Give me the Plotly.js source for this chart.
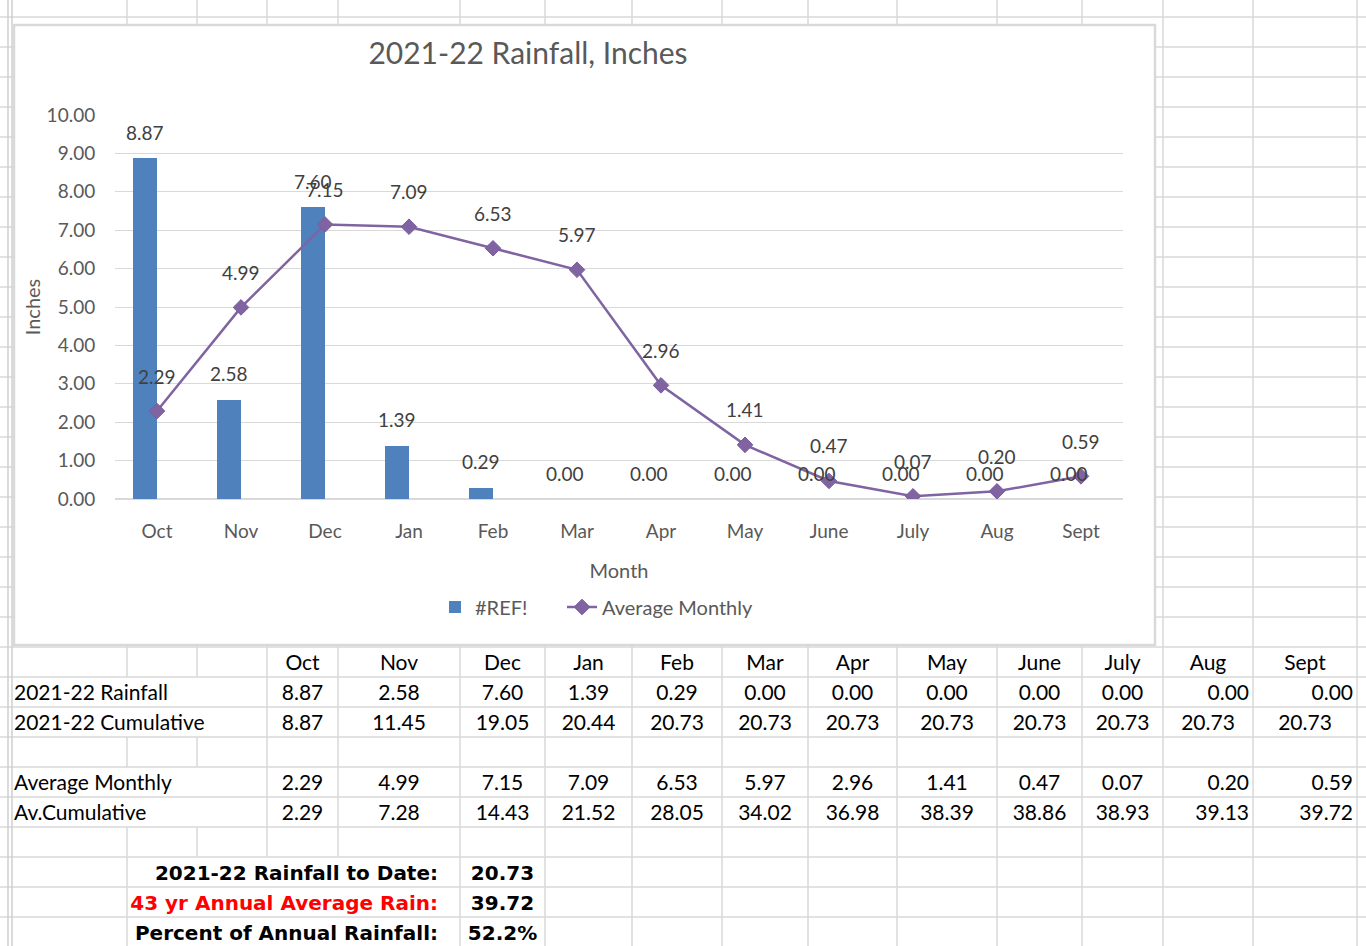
<!DOCTYPE html>
<html>
<head>
<meta charset="utf-8">
<script src="https://cdn.plot.ly/plotly-3.0.1.min.js"></script>
<style>
html,body{margin:0;padding:0;background:#fff;}
#chart{width:1366px;height:946px;}
</style>
</head>
<body>
<div id="chart"></div>
<script>
// ---------------- data ----------------
const months = ['Oct','Nov','Dec','Jan','Feb','Mar','Apr','May','June','July','Aug','Sept'];
const rainfall = [8.87, 2.58, 7.60, 1.39, 0.29, 0.00, 0.00, 0.00, 0.00, 0.00, 0.00, 0.00];
const avgMonthly = [2.29, 4.99, 7.15, 7.09, 6.53, 5.97, 2.96, 1.41, 0.47, 0.07, 0.20, 0.59];
const cumulative = [8.87, 11.45, 19.05, 20.44, 20.73, 20.73, 20.73, 20.73, 20.73, 20.73, 20.73, 20.73];
const avCumulative = [2.29, 7.28, 14.43, 21.52, 28.05, 34.02, 36.98, 38.39, 38.86, 38.93, 39.13, 39.72];
const rowLabels = ['2021-22 Rainfall', '2021-22 Cumulative', 'Average Monthly', 'Av.Cumulative'];
const summaryLabels = ['2021-22 Rainfall to Date:', '43 yr Annual Average Rain:', 'Percent of Annual Rainfall:'];
const summaryValues = ['20.73', '39.72', '52.2%'];
const seriesNames = ['#REF!', 'Average Monthly'];

// ---------------- layout helpers ----------------
const W = 1366, H = 946;
const px = x => x / W;
const py = y => 1 - y / H;
const chartFont = 'Lato, "Open Sans", sans-serif';
const tableFont = 'Lato, "Open Sans", sans-serif';
const boldFont = '"DejaVu Sans", sans-serif';

// spreadsheet geometry (pixels)
const gridTop = 17, rowH = 30, nRows = 32, textDrop = 3;
const colL = [267, 338, 460, 545, 632, 722, 808, 897, 997, 1082, 1163, 1253];
const colR = [338, 460, 545, 632, 722, 808, 897, 997, 1082, 1163, 1253, 1357];
const rowCenter = r => gridTop + rowH * r + rowH / 2 + textDrop;

// ---------------- chart traces ----------------
const traces = [
  {
    type: 'bar', name: seriesNames[0], x: months, y: rainfall,
    width: 0.28, offset: -0.28,
    marker: {color: '#4F81BD'},
    hoverinfo: 'x+y', legend: 'legend'
  },
  {
    type: 'scatter', mode: 'lines+markers', name: seriesNames[1], x: months, y: avgMonthly,
    line: {color: '#8064A2', width: 2.5},
    marker: {symbol: 'diamond', size: 12, color: '#8064A2', line: {color: '#7A5C9E', width: 1}},
    legend: 'legend2'
  }
];

// ---------------- table traces (pixel-space subplot) ----------------
const txtBase = {type: 'scatter', mode: 'text', xaxis: 'x2', yaxis: 'y2', showlegend: false, hoverinfo: 'skip', cliponaxis: false};

traces.push(Object.assign({}, txtBase, {
  x: months.map((m, i) => (colL[i] + colR[i]) / 2),
  y: months.map(() => rowCenter(21)),
  text: months, textposition: 'middle center',
  textfont: {family: tableFont, size: 21, color: '#000'}
}));

const tableRows = [
  {vals: rainfall, r: 22, right: [10, 11]},
  {vals: cumulative, r: 23, right: []},
  {vals: avgMonthly, r: 25, right: [10, 11]},
  {vals: avCumulative, r: 26, right: [10, 11]}
];
tableRows.forEach(row => {
  traces.push(Object.assign({}, txtBase, {
    x: row.vals.map((v, i) => row.right.includes(i) ? colR[i] - 4 : (colL[i] + colR[i]) / 2),
    y: row.vals.map(() => rowCenter(row.r)),
    text: row.vals.map(v => v.toFixed(2)),
    textposition: row.vals.map((v, i) => row.right.includes(i) ? 'middle left' : 'middle center'),
    textfont: {family: tableFont, size: 21, color: '#000'}
  }));
});

traces.push(Object.assign({}, txtBase, {
  x: rowLabels.map(() => 14),
  y: tableRows.map(r => rowCenter(r.r)),
  text: rowLabels, textposition: 'middle right',
  textfont: {family: tableFont, size: 21, color: '#000'}
}));

traces.push(Object.assign({}, txtBase, {
  x: summaryLabels.map(() => 438),
  y: summaryLabels.map((s, i) => rowCenter(28 + i)),
  text: summaryLabels, textposition: 'middle left',
  textfont: {family: boldFont, size: 20, color: ['#000000', '#FF0000', '#000000'], weight: 'bold'}
}));
traces.push(Object.assign({}, txtBase, {
  x: summaryValues.map(() => (460 + 545) / 2),
  y: summaryValues.map((s, i) => rowCenter(28 + i)),
  text: summaryValues, textposition: 'middle center',
  textfont: {family: boldFont, size: 20, color: '#000', weight: 'bold'}
}));

// ---------------- data labels ----------------
const annotations = [];
months.forEach((m, i) => {
  annotations.push({x: m, y: rainfall[i], xref: 'x', yref: 'y', text: rainfall[i].toFixed(2),
    showarrow: false, xshift: -12, yshift: 26, font: {family: chartFont, size: 19, color: '#404040'}});
});
months.forEach((m, i) => {
  annotations.push({x: m, y: avgMonthly[i], xref: 'x', yref: 'y', text: avgMonthly[i].toFixed(2),
    showarrow: false, xshift: 0, yshift: 35, font: {family: chartFont, size: 19, color: '#404040'}});
});

// ---------------- spreadsheet grid shapes ----------------
const gridColor = '#D9D9D9';
const shapes = [];
for (let k = 0; k < nRows; k++) {
  const y = gridTop + rowH * k;
  shapes.push({type: 'line', xref: 'paper', yref: 'paper', layer: 'below',
    x0: 0, x1: 1, y0: py(y), y1: py(y), line: {color: gridColor, width: 1.5}});
}
const vLines = [127, 197, 267, 338, 460, 545, 632, 722, 808, 897, 997, 1082, 1163, 1253, 1357];
const hidden = {
  127: [[677, 737], [767, 827]],
  197: [[677, 737], [767, 827], [857, 946]],
  267: [[857, 946]],
  338: [[857, 946]]
};
vLines.forEach(x => {
  let segs = [[0, H]];
  (hidden[x] || []).forEach(([a, b]) => {
    const out = [];
    segs.forEach(([s, e]) => {
      if (b <= s || a >= e) { out.push([s, e]); return; }
      if (a > s) out.push([s, a]);
      if (b < e) out.push([b, e]);
    });
    segs = out;
  });
  segs.forEach(([s, e]) => shapes.push({type: 'line', xref: 'paper', yref: 'paper', layer: 'below',
    x0: px(x), x1: px(x), y0: py(s), y1: py(e), line: {color: gridColor, width: 1.5}}));
});
[8, 12].forEach(x => shapes.push({type: 'line', xref: 'paper', yref: 'paper', layer: 'below',
  x0: px(x), x1: px(x), y0: 0, y1: 1, line: {color: '#CFCFCF', width: 1.5}}));
// chart area box
shapes.push({type: 'rect', xref: 'paper', yref: 'paper', layer: 'below',
  x0: px(14), x1: px(1155), y0: py(645), y1: py(25),
  fillcolor: '#FFFFFF', line: {color: '#D9D9D9', width: 2.5}});

// ---------------- layout ----------------
const legendBase = {orientation: 'h', xanchor: 'left', y: py(607), yanchor: 'middle',
  font: {family: chartFont, size: 20, color: '#595959'}, bgcolor: 'rgba(0,0,0,0)'};
const layout = {
  width: W, height: H,
  margin: {l: 0, r: 0, t: 0, b: 0},
  paper_bgcolor: '#FFFFFF',
  plot_bgcolor: 'rgba(0,0,0,0)',
  font: {family: chartFont, color: '#595959'},
  title: {text: '2021-22 Rainfall, Inches', x: px(528), xanchor: 'center', xref: 'paper',
    y: py(53), yanchor: 'middle', yref: 'paper', font: {family: chartFont, size: 30, color: '#595959'}},
  showlegend: true,
  legend: Object.assign({}, legendBase, {x: px(435)}),
  legend2: Object.assign({}, legendBase, {x: px(562)}),
  bargap: 0,
  xaxis: {
    domain: [px(115), px(1123)], type: 'category', range: [-0.5, 11.5],
    showgrid: false, showline: false, zeroline: false,
    ticks: 'outside', ticklen: 15, tickcolor: 'rgba(0,0,0,0)',
    tickfont: {family: chartFont, size: 19, color: '#595959'},
    title: {text: 'Month', standoff: 23, font: {family: chartFont, size: 20, color: '#595959'}},
    anchor: 'y', fixedrange: true
  },
  yaxis: {
    domain: [py(499), py(115)], range: [0, 10], dtick: 1, tickformat: '.2f',
    showgrid: true, gridcolor: '#D9D9D9', gridwidth: 1,
    zeroline: true, zerolinecolor: '#D9D9D9', zerolinewidth: 1.5,
    showline: false,
    ticks: 'outside', ticklen: 15, tickcolor: 'rgba(0,0,0,0)',
    tickfont: {family: chartFont, size: 19, color: '#595959'},
    title: {text: 'Inches', standoff: 0, font: {family: chartFont, size: 20, color: '#595959'}},
    anchor: 'x', fixedrange: true
  },
  xaxis2: {domain: [0, 1], range: [0, W], visible: false, anchor: 'y2', fixedrange: true},
  yaxis2: {domain: [0, 1], range: [H, 0], visible: false, anchor: 'x2', fixedrange: true},
  shapes: shapes,
  annotations: annotations
};

Plotly.newPlot('chart', traces, layout, {displayModeBar: false, staticPlot: true});
</script>
</body>
</html>
